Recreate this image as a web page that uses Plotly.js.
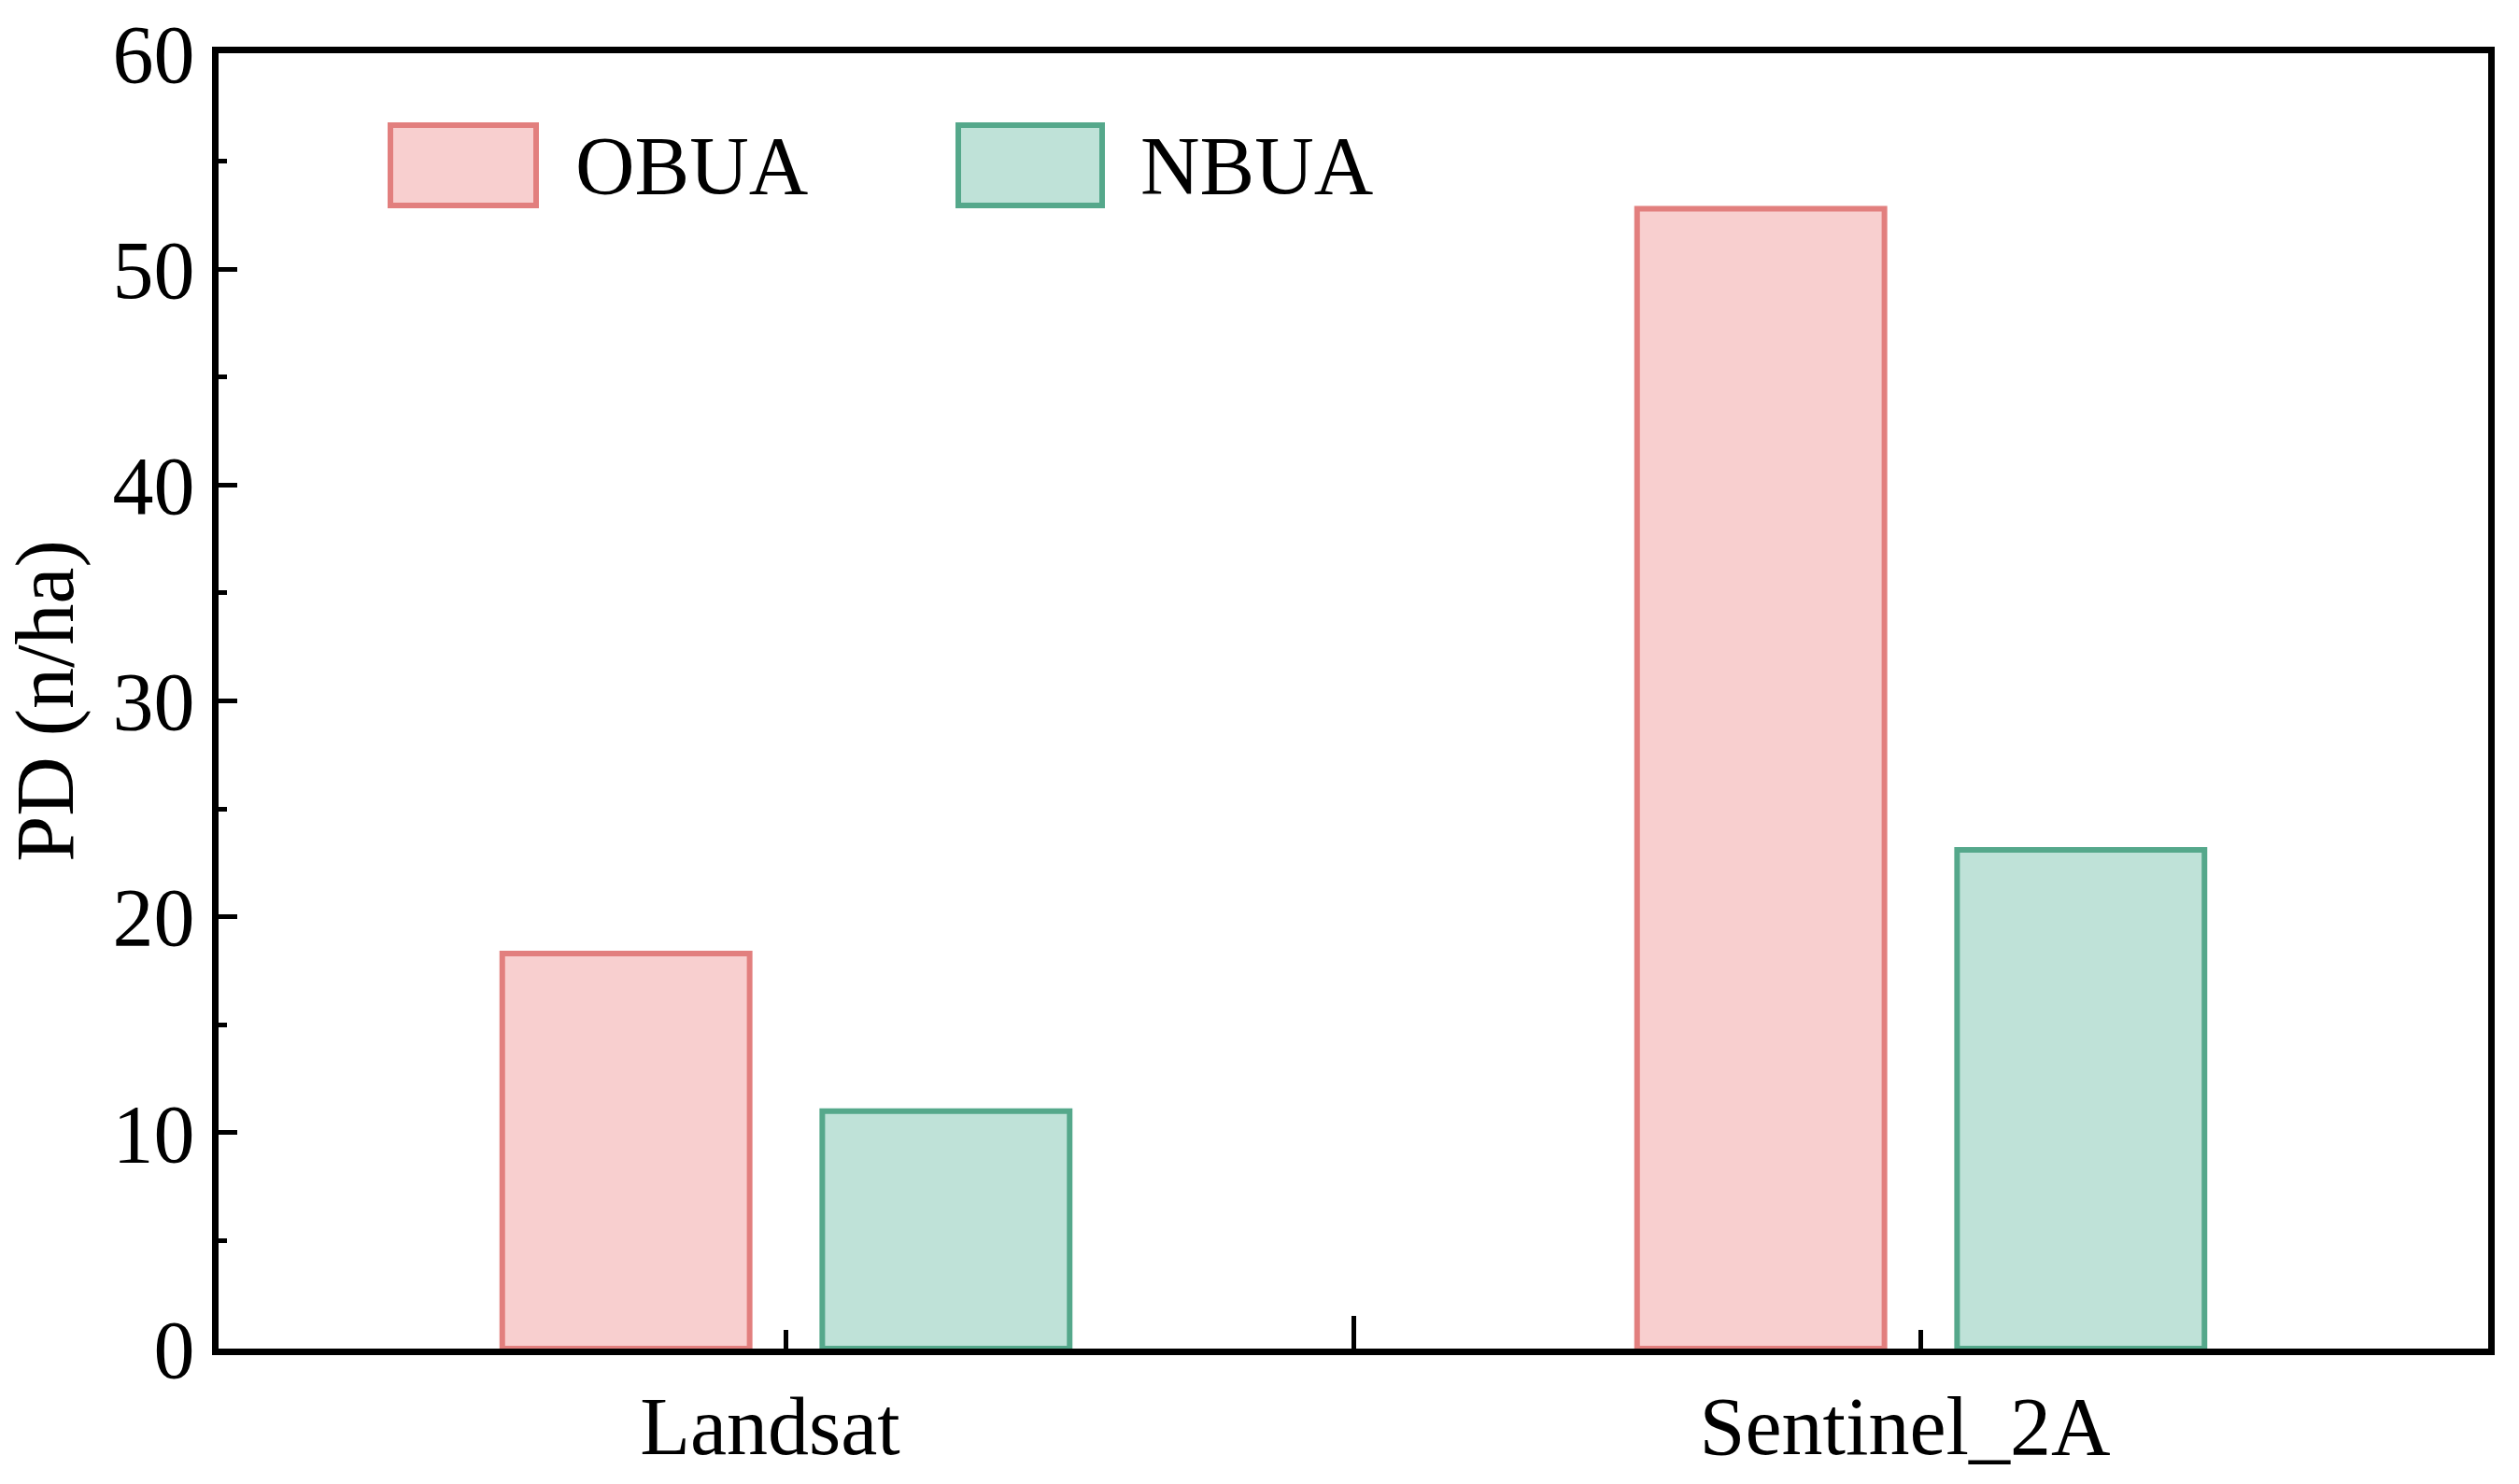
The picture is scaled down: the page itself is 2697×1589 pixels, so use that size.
<!DOCTYPE html>
<html>
<head>
<meta charset="utf-8">
<script src="https://cdn.plot.ly/plotly-3.0.1.min.js"></script>
<style>html,body{margin:0;padding:0;background:#fff;}</style>
</head>
<body>
<div id="chart" style="width:2697px;height:1589px;"></div>
<script>
// ---- data ----
const categories = ['Landsat', 'Sentinel_2A'];
const seriesNames = ['OBUA', 'NBUA'];
const obuaValues = [18.3, 52.8];
const nbuaValues = [11.0, 23.1];
const yTickVals = [0, 10, 20, 30, 40, 50, 60];

// ---- styling ----
const FONT = 'Liberation Serif, Times New Roman, serif';
const FS = 88;
const pinkFill = '#F8CFCF', pinkLine = '#E27F7E';
const greenFill = '#BFE2D8', greenLine = '#55A88B';

const W = 2697, H = 1589;
const M = {l: 234, r: 33, t: 57, b: 145};
const pw = W - M.l - M.r, ph = H - M.t - M.b;
const px = v => (v - M.l) / pw;
const py = v => (H - M.b - v) / ph;

const xPos = categories.map((c, i) => i + 1);

const traces = [
  {type: 'bar', name: seriesNames[0], x: xPos, y: obuaValues,
   width: 0.218, offset: -0.25,
   marker: {color: pinkFill, line: {color: pinkLine, width: 6}},
   showlegend: false, hoverinfo: 'y'},
  {type: 'bar', name: seriesNames[1], x: xPos, y: nbuaValues,
   width: 0.218, offset: 0.032,
   marker: {color: greenFill, line: {color: greenLine, width: 6}},
   showlegend: false, hoverinfo: 'y'}
];

const layout = {
  width: W, height: H,
  margin: {l: M.l, r: M.r, t: M.t, b: M.b, autoexpand: false},
  paper_bgcolor: '#fff', plot_bgcolor: '#fff',
  barmode: 'overlay',
  font: {family: FONT, size: FS, color: '#000'},
  xaxis: {
    range: [0.5, 2.5],
    tickmode: 'array', tickvals: xPos, ticktext: categories,
    ticks: 'inside', ticklen: 20, tickwidth: 5, tickcolor: '#000',
    showline: true, mirror: true, linewidth: 7, linecolor: '#000',
    showgrid: false, zeroline: false,
    tickfont: {family: FONT, size: FS, color: '#000'},
    ticklabelstandoff: 0, ticklabelshift: -17,
    minor: {tickmode: 'array', tickvals: [1.5], ticks: 'inside', ticklen: 35, tickwidth: 5, tickcolor: '#000', showgrid: false}
  },
  yaxis: {
    range: [0, 60],
    tickmode: 'array', tickvals: yTickVals,
    ticks: 'inside', ticklen: 20, tickwidth: 5, tickcolor: '#000',
    showline: true, mirror: true, linewidth: 7, linecolor: '#000',
    showgrid: false, zeroline: false,
    tickfont: {family: FONT, size: FS, color: '#000'},
    ticklabelstandoff: 1,
    minor: {dtick: 5, ticks: 'inside', ticklen: 9, tickwidth: 5, tickcolor: '#000', showgrid: false},
    title: {text: 'PD (n/ha)', font: {family: FONT, size: FS, color: '#000'}, standoff: 22}
  },
  shapes: [
    {type: 'rect', xref: 'paper', yref: 'paper', x0: px(418), x1: px(574), y0: py(134), y1: py(220),
     fillcolor: pinkFill, line: {color: pinkLine, width: 6}},
    {type: 'rect', xref: 'paper', yref: 'paper', x0: px(1026), x1: px(1180), y0: py(134), y1: py(220),
     fillcolor: greenFill, line: {color: greenLine, width: 6}}
  ],
  annotations: [
    {xref: 'paper', yref: 'paper', x: px(614), y: py(177), xanchor: 'left', yanchor: 'middle',
     text: seriesNames[0], showarrow: false, font: {family: FONT, size: FS, color: '#000'}},
    {xref: 'paper', yref: 'paper', x: px(1219), y: py(177), xanchor: 'left', yanchor: 'middle',
     text: seriesNames[1], showarrow: false, font: {family: FONT, size: FS, color: '#000'}}
  ]
};

Plotly.newPlot('chart', traces, layout, {displayModeBar: false, staticPlot: true});
</script>
</body>
</html>
